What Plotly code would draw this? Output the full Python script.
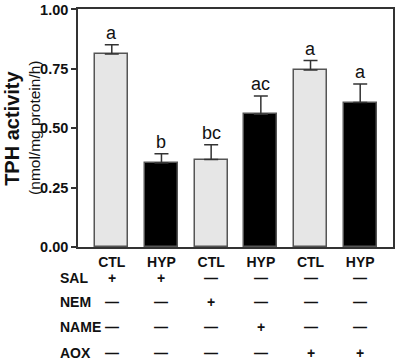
import plotly.graph_objects as go

groups = ["CTL", "HYP", "CTL", "HYP", "CTL", "HYP"]
means = [0.813, 0.354, 0.368, 0.559, 0.745, 0.608]
sems = [0.038, 0.039, 0.063, 0.077, 0.040, 0.078]
letters = ["a", "b", "bc", "ac", "a", "a"]
bar_colors = ["#e6e6e6", "#000000", "#e6e6e6", "#000000", "#e6e6e6", "#000000"]
row_names = ["SAL", "NEM", "NAME", "AOX"]
rows = [
    ["+", "+", "—", "—", "—", "—"],
    ["—", "—", "+", "—", "—", "—"],
    ["—", "—", "—", "+", "—", "—"],
    ["—", "—", "—", "—", "+", "+"],
]
y_ticks = [0.0, 0.25, 0.5, 0.75, 1.0]
y_title = "TPH activity"
y_subtitle = "(nmol/mg protein/h)"

xs = list(range(len(groups)))
FONT = "Liberation Sans, Arial, sans-serif"

fig = go.Figure()
fig.add_trace(go.Bar(
    x=xs, y=means, width=0.66,
    marker=dict(color=bar_colors, line=dict(color="#555555", width=1.5)),
    error_y=dict(type="data", symmetric=False, array=sems, arrayminus=[0]*len(sems),
                 color="#333333", thickness=1.5, width=7),
    showlegend=False, hoverinfo="skip",
))

for i, (m, s, t) in enumerate(zip(means, sems, letters)):
    fig.add_annotation(x=i, y=m + s, text=t, showarrow=False, yanchor="bottom",
                       yshift=0, font=dict(family=FONT, size=18, color="#111"))

# y-axis titles
fig.add_annotation(xref="paper", yref="paper", x=-0.21, y=0.5, text=f"<b>{y_title}</b>",
                   textangle=-90, showarrow=False, xanchor="center", yanchor="middle",
                   font=dict(family=FONT, size=20, color="#111"))
fig.add_annotation(xref="paper", yref="paper", x=-0.14, y=0.5, text=y_subtitle,
                   textangle=-90, showarrow=False, xanchor="center", yanchor="middle",
                   font=dict(family=FONT, size=15.5, color="#111"))

# treatment table below
row_y = [-0.13, -0.232, -0.337, -0.445]  # paper units
for r, (name, vals) in enumerate(zip(row_names, rows)):
    fig.add_annotation(xref="paper", yref="paper", x=-0.065, y=row_y[r], text=f"<b>{name}</b>",
                       showarrow=False, xanchor="left", yanchor="middle",
                       font=dict(family=FONT, size=14, color="#111"))
    for i, v in enumerate(vals):
        fig.add_annotation(xref="x", yref="paper", x=i, y=row_y[r], text=f"<b>{v}</b>",
                           showarrow=False, xanchor="center", yanchor="middle",
                           font=dict(family=FONT, size=14, color="#111"))

fig.update_layout(
    width=397, height=361,
    margin=dict(l=78, r=2, t=8, b=114),
    plot_bgcolor="white", paper_bgcolor="white",
    bargap=0,
    xaxis=dict(range=[-0.68, 5.66], tickmode="array", tickvals=xs,
               ticktext=[f"<b>{g}</b>" for g in groups],
               tickfont=dict(family=FONT, size=14, color="#111"),
               showgrid=False, zeroline=False, showline=True, mirror=True,
               linecolor="#333333", linewidth=1.5, ticks="", ticklabelstandoff=1),
    yaxis=dict(range=[0, 1.002], tickvals=y_ticks, ticktext=[f"<b>{v:.2f}</b>" for v in y_ticks],
               tickfont=dict(family=FONT, size=14.5, color="#111"),
               showgrid=False, zeroline=False, showline=True, mirror=True,
               linecolor="#333333", linewidth=1.5, ticks="outside", ticklen=5,
               tickcolor="#333333", tickwidth=1.5),
)

fig.write_html("out.html", config={"displayModeBar": False},
               post_script="document.body.style.margin='0';")
